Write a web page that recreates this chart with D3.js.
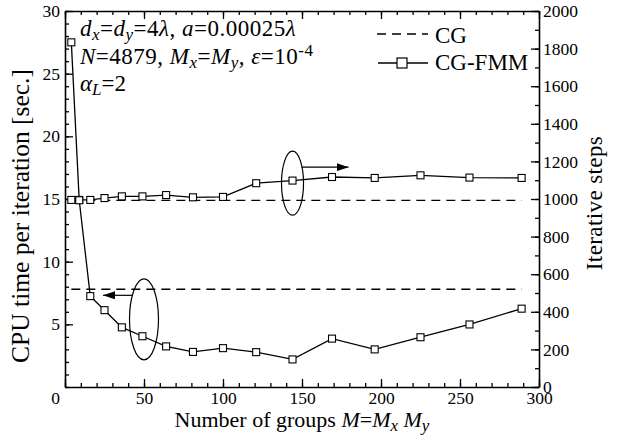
<!DOCTYPE html>
<html>
<head>
<meta charset="utf-8">
<script src="https://cdn.jsdelivr.net/npm/d3@7"></script>
<style>
  body { margin: 0; background: #fff; }
  svg text { font-family: "Liberation Serif", "Times New Roman", serif; fill: #000; }
</style>
</head>
<body>
<div id="chart"></div>
<script>
// Number of groups M = Mx * My (Mx = My)
const groups = [4, 9, 16, 25, 36, 49, 64, 81, 100, 121, 144, 169, 196, 225, 256, 289];
// CG-FMM: CPU time per iteration [sec.] (left axis)
const cpuTime = [27.5, 14.9, 7.25, 6.13, 4.76, 4.05, 3.24, 2.8, 3.1, 2.78, 2.2, 3.86, 3.0, 3.97, 4.99, 6.25];
// CG-FMM: iterative steps (right axis)
const iterSteps = [995, 995, 995, 1005, 1014, 1014, 1021, 1009, 1011, 1084, 1098, 1117, 1112, 1126, 1114, 1112];
// CG reference (dashed)
const cgCpu = 7.8;
const cgIter = 993;

const xTicks = [0, 50, 100, 150, 200, 250, 300];
const yLeftTicks = [5, 10, 15, 20, 25, 30];
const yRightTicks = [0, 200, 400, 600, 800, 1000, 1200, 1400, 1600, 1800, 2000];

const width = 633, height = 441;
const margin = { top: 11, right: 94, bottom: 54, left: 65 };
const w = width - margin.left - margin.right;
const h = height - margin.top - margin.bottom;

const svg = d3.select("#chart").append("svg")
  .attr("width", width)
  .attr("height", height);

const defs = svg.append("defs");
defs.append("marker")
  .attr("id", "arrow")
  .attr("viewBox", "0 0 12 8")
  .attr("refX", 12).attr("refY", 4)
  .attr("markerWidth", 12).attr("markerHeight", 8)
  .attr("markerUnits", "userSpaceOnUse")
  .attr("orient", "auto")
  .append("path")
  .attr("d", "M0,0L12,4L0,8z")
  .attr("fill", "#000");

const g = svg.append("g").attr("transform", `translate(${margin.left},${margin.top})`);

const x = d3.scaleLinear().domain([0, 300]).range([0, w]);
const yL = d3.scaleLinear().domain([0, 30]).range([h, 0]);
const yR = d3.scaleLinear().domain([0, 2000]).range([h, 0]);

// axes (ticks point inward)
function styleAxis(sel) {
  sel.attr("font-family", null);
  sel.selectAll("path.domain").attr("stroke", "#000").attr("stroke-width", 1.6);
  sel.selectAll(".tick line").attr("stroke", "#000").attr("stroke-width", 1.3);
  sel.selectAll(".tick text").style("font-size", "17.5px");
}

// minor ticks
g.append("g").attr("transform", `translate(0,${h})`)
  .call(d3.axisBottom(x).tickValues(d3.range(0, 301, 10)).tickSize(-4).tickFormat(""))
  .call(s => s.select(".domain").remove()).call(styleAxis);
g.append("g")
  .call(d3.axisTop(x).tickValues(d3.range(0, 301, 10)).tickSize(-4).tickFormat(""))
  .call(s => s.select(".domain").remove()).call(styleAxis);
g.append("g")
  .call(d3.axisLeft(yL).tickValues(d3.range(0, 31, 1)).tickSize(-4).tickFormat(""))
  .call(s => s.select(".domain").remove()).call(styleAxis);
g.append("g").attr("transform", `translate(${w},0)`)
  .call(d3.axisRight(yR).tickValues(d3.range(0, 2001, 100)).tickSize(-4).tickFormat(""))
  .call(s => s.select(".domain").remove()).call(styleAxis);

// major ticks
const xAxis = g.append("g").attr("transform", `translate(0,${h})`)
  .call(d3.axisBottom(x).tickValues(xTicks).tickSize(-8).tickSizeOuter(0).tickPadding(5).tickFormat(d3.format("d")))
  .call(styleAxis);
xAxis.selectAll(".tick text").filter(d => d === 0).attr("dx", -10);

g.append("g")
  .call(d3.axisTop(x).tickValues(xTicks).tickSize(-8).tickSizeOuter(0).tickFormat(""))
  .call(styleAxis);

g.append("g")
  .call(d3.axisLeft(yL).tickValues(yLeftTicks).tickSize(-8).tickSizeOuter(0).tickPadding(5).tickFormat(d3.format("d")))
  .call(styleAxis);

g.append("g").attr("transform", `translate(${w},0)`)
  .call(d3.axisRight(yR).tickValues(yRightTicks).tickSize(-8).tickSizeOuter(0).tickPadding(4).tickFormat(d3.format("d")))
  .call(styleAxis);

// CG dashed reference lines
const xMin = groups[0], xMax = groups[groups.length - 1];
g.append("line")
  .attr("x1", x(xMin)).attr("x2", x(xMax))
  .attr("y1", yL(cgCpu)).attr("y2", yL(cgCpu))
  .attr("stroke", "#000").attr("stroke-width", 1.3).attr("stroke-dasharray", "9,6");
g.append("line")
  .attr("x1", x(xMin)).attr("x2", x(xMax))
  .attr("y1", yR(cgIter)).attr("y2", yR(cgIter))
  .attr("stroke", "#000").attr("stroke-width", 1.3).attr("stroke-dasharray", "9,6");

// CG-FMM series
function drawSeries(values, yScale) {
  const pts = groups.map((m, i) => [x(m), yScale(values[i])]);
  g.append("path")
    .attr("d", d3.line()(pts))
    .attr("fill", "none").attr("stroke", "#000").attr("stroke-width", 1.3);
  g.append("g").selectAll("rect").data(pts).join("rect")
    .attr("x", d => d[0] - 3.5).attr("y", d => d[1] - 3.5)
    .attr("width", 7).attr("height", 7)
    .attr("fill", "#fff").attr("stroke", "#000").attr("stroke-width", 1.1);
}
drawSeries(iterSteps, yR);
drawSeries(cpuTime, yL);

// ellipses and arrows pointing to the axes
g.append("ellipse")
  .attr("cx", x(144)).attr("cy", yR(1084)).attr("rx", 11).attr("ry", 32)
  .attr("fill", "none").attr("stroke", "#000").attr("stroke-width", 1.2);
g.append("line")
  .attr("x1", x(144) + 9).attr("y1", yR(1084) - 16)
  .attr("x2", x(144) + 56).attr("y2", yR(1084) - 16)
  .attr("stroke", "#000").attr("stroke-width", 1.2).attr("marker-end", "url(#arrow)");

g.append("ellipse")
  .attr("cx", x(50)).attr("cy", yL(5.4)).attr("rx", 14.5).attr("ry", 40.5)
  .attr("fill", "none").attr("stroke", "#000").attr("stroke-width", 1.2);
g.append("line")
  .attr("x1", x(50) - 12).attr("y1", yL(5.4) - 24)
  .attr("x2", x(50) - 41).attr("y2", yL(5.4) - 24)
  .attr("stroke", "#000").attr("stroke-width", 1.2).attr("marker-end", "url(#arrow)");

// parameter text
function rich(parent, parts, base) {
  parts.forEach(p => {
    const t = parent.append("tspan").text(p.t);
    if (p.i) t.attr("font-style", "italic");
    if (p.s) t.attr("dy", p.s);
    t.attr("font-size", p.sub ? "17px" : base);
  });
}
const info = svg.append("text").attr("x", 80).attr("y", 36).style("letter-spacing", "0.5px");
rich(info, [
  { t: "d", i: 1 }, { t: "x", i: 1, s: 4, sub: 1 }, { t: "=", s: -4 }, { t: "d", i: 1 }, { t: "y", i: 1, s: 4, sub: 1 },
  { t: "=4", s: -4 }, { t: "λ", i: 1 }, { t: ", " }, { t: "a", i: 1 }, { t: "=0.00025" }, { t: "λ", i: 1 }
], "23px");
const info2 = svg.append("text").attr("x", 80).attr("y", 64).style("letter-spacing", "0.5px");
rich(info2, [
  { t: "N", i: 1 }, { t: "=4879, " }, { t: "M", i: 1 }, { t: "x", i: 1, s: 4, sub: 1 }, { t: "=", s: -4 },
  { t: "M", i: 1 }, { t: "y", i: 1, s: 4, sub: 1 }, { t: ", ", s: -4 }, { t: "ε", i: 1 }, { t: "=10" }, { t: "-4", s: -8, sub: 1 }
], "23px");
const info3 = svg.append("text").attr("x", 80).attr("y", 91);
rich(info3, [{ t: "α", i: 1 }, { t: "L", i: 1, s: 4, sub: 1 }, { t: "=2", s: -4 }], "23px");

// legend
const leg = svg.append("g");
leg.append("line").attr("x1", 377).attr("x2", 428).attr("y1", 34).attr("y2", 34)
  .attr("stroke", "#000").attr("stroke-width", 1.3).attr("stroke-dasharray", "9,6");
leg.append("text").attr("x", 435).attr("y", 43).style("font-size", "23px").text("CG");
leg.append("line").attr("x1", 378).attr("x2", 428).attr("y1", 63).attr("y2", 63)
  .attr("stroke", "#000").attr("stroke-width", 1.3);
leg.append("rect").attr("x", 397).attr("y", 58).attr("width", 10).attr("height", 10)
  .attr("fill", "#fff").attr("stroke", "#000").attr("stroke-width", 1.2);
leg.append("text").attr("x", 435).attr("y", 70).style("font-size", "23px").text("CG-FMM");

// axis titles
const xt = svg.append("text").attr("x", margin.left + w / 2).attr("y", 427)
  .attr("text-anchor", "middle");
rich(xt, [
  { t: "Number of groups " }, { t: "M", i: 1 }, { t: "=" }, { t: "M", i: 1 }, { t: "x", i: 1, s: 4, sub: 1 },
  { t: " ", s: -4 }, { t: "M", i: 1 }, { t: "y", i: 1, s: 4, sub: 1 }
], "22px");

svg.append("text")
  .attr("transform", "translate(29,216) rotate(-90)")
  .attr("text-anchor", "middle").style("font-size", "25.5px")
  .text("CPU time per iteration [sec.]");

svg.append("text")
  .attr("transform", "translate(602,203) rotate(-90)")
  .attr("text-anchor", "middle").style("font-size", "23px").style("letter-spacing", "0.4px")
  .text("Iterative steps");
</script>
</body>
</html>
